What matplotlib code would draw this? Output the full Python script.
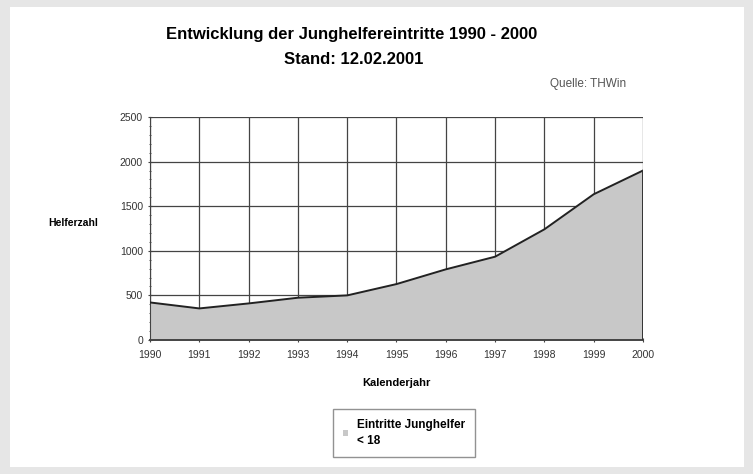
import matplotlib
matplotlib.use("Agg")
import matplotlib.pyplot as plt
from matplotlib.patches import Rectangle
from matplotlib.ticker import MultipleLocator

plt.rcParams['font.family'] = ['Liberation Sans', 'DejaVu Sans']

# Junghelfer entries per calendar year
years = ['1990', '1991', '1992', '1993', '1994', '1995',
         '1996', '1997', '1998', '1999', '2000']
eintritte = [421, 354, 410, 474, 500, 627, 792, 934, 1241, 1634, 1900]

W, H = 753, 474
fig = plt.figure(figsize=(W / 100, H / 100), dpi=100)
fig.patch.set_facecolor('#e6e6e6')

# white page inside the grey frame
fig.add_artist(Rectangle((10 / W, 7 / H), (744 - 10) / W, (467 - 7) / H,
                         transform=fig.transFigure, facecolor='white',
                         edgecolor='none', zorder=0))

ax = fig.add_axes([150 / W, 1 - 340 / H, (643 - 150) / W, (340 - 117) / H])
ax.set_facecolor('white')

x = list(range(len(years)))
ax.fill_between(x, eintritte, 0, facecolor='#c8c8c8', edgecolor='none',
                label='Eintritte Junghelfer\n< 18', zorder=2)
ax.plot(x, eintritte, color='#222222', lw=1.4, zorder=3)
ax.plot([x[-1], x[-1]], [0, eintritte[-1]], color='#333333', lw=1.4, zorder=3)

ax.set_xlim(0, len(years) - 1)
ax.set_ylim(0, 2500)
ax.set_xticks(x)
ax.set_xticklabels(years)
ax.yaxis.set_major_locator(MultipleLocator(500))
ax.yaxis.set_minor_locator(MultipleLocator(100))

ax.grid(True, which='major', color='#444444', lw=0.9, zorder=1)
ax.set_axisbelow(True)
for side in ('top', 'right'):
    ax.spines[side].set_visible(False)
ax.spines['left'].set_color('#444444')
ax.spines['bottom'].set_color('#444444')
ax.spines['bottom'].set_linewidth(1.4)
ax.tick_params(axis='both', which='major', labelsize=7.5, colors='#444444',
               labelcolor='#333333', length=3, direction='inout')
ax.tick_params(axis='y', which='minor', length=2, direction='inout',
               colors='#444444')
ax.tick_params(axis='x', pad=6)

ax.set_xlabel('Kalenderjahr', fontsize=8, fontweight='bold', labelpad=13)
ax.set_ylabel('Helferzahl', fontsize=7.5, fontweight='bold', rotation=0,
              labelpad=0)
ax.yaxis.set_label_coords(-0.155, 0.5)

fig.text(352 / W, 1 - 35 / H, 'Entwicklung der Junghelfereintritte 1990 - 2000',
         ha='center', va='center', fontsize=12, fontweight='bold')
fig.text(354 / W, 1 - 59 / H, 'Stand: 12.02.2001',
         ha='center', va='center', fontsize=12, fontweight='bold')
fig.text(588 / W, 1 - 84 / H, 'Quelle: THWin', ha='center', va='center',
         fontsize=8.5, color='#555555')

leg = fig.legend(loc='center', bbox_to_anchor=(404 / W, 1 - 433 / H),
                 fontsize=8.5, frameon=True, fancybox=False,
                 edgecolor='#777777', borderpad=0.85, borderaxespad=0,
                 handlelength=0.4, handleheight=0.4, handletextpad=0.8)
leg.get_frame().set_linewidth(1.0)
for t in leg.get_texts():
    t.set_fontweight('bold')
    t.set_linespacing(1.4)

fig.savefig('out.png', dpi=100, facecolor=fig.get_facecolor())
